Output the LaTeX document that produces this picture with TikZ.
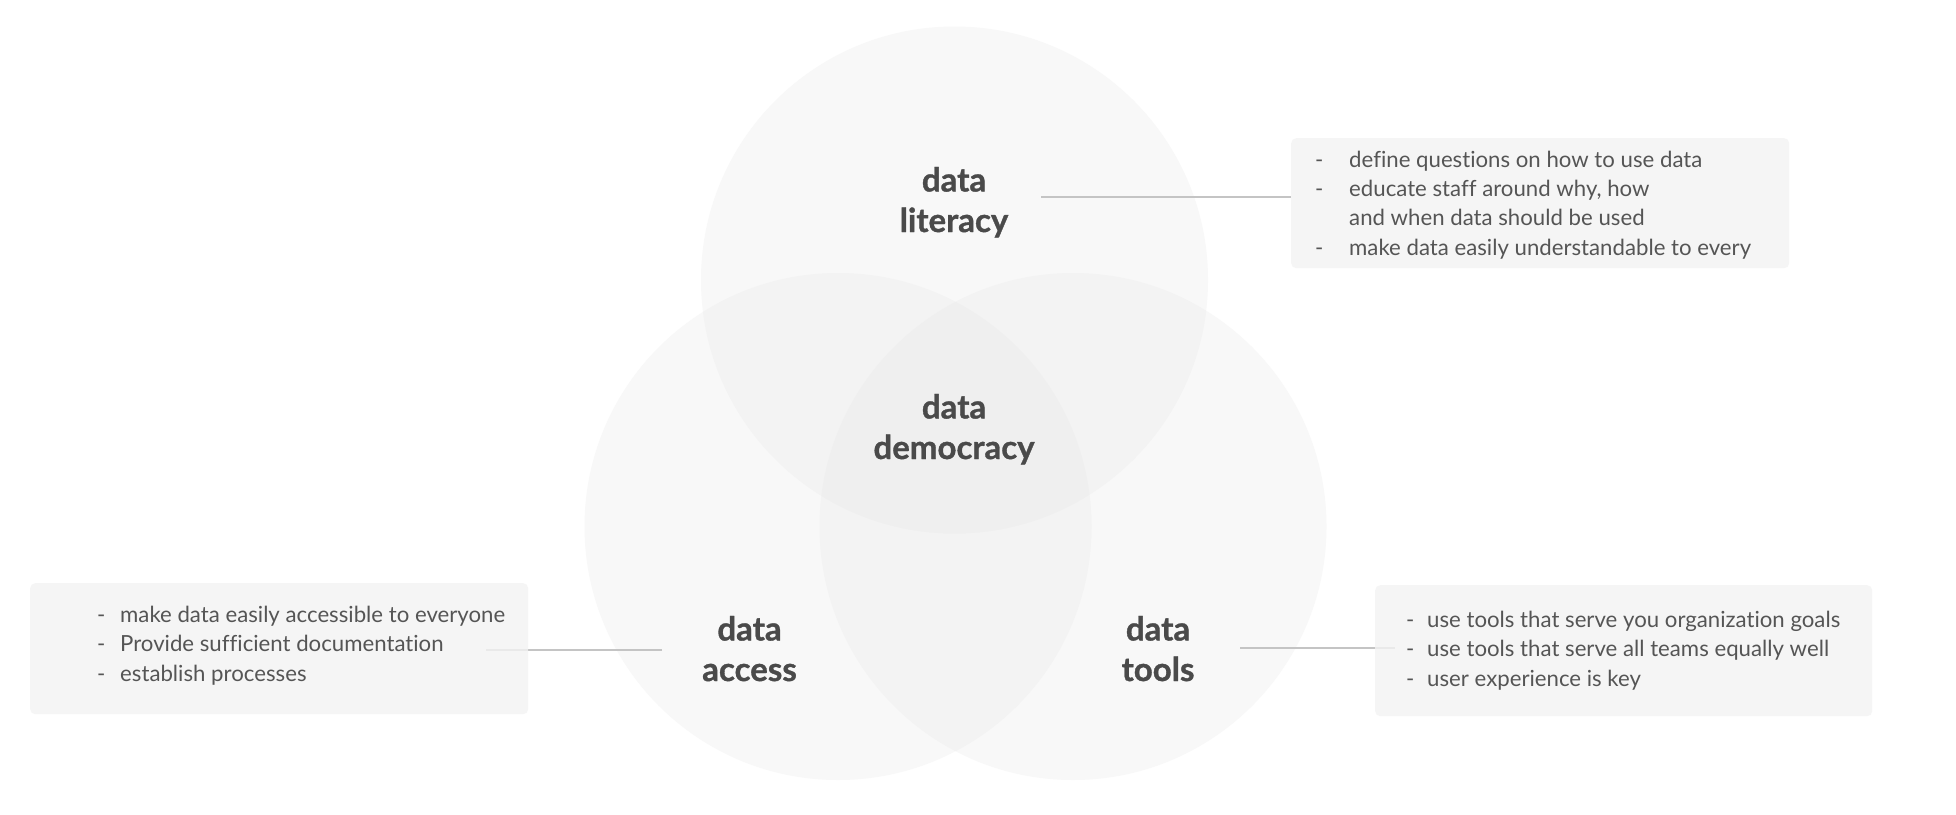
\documentclass[tikz,border=0pt]{standalone}
\usepackage{fontspec}
\setmainfont{Lato}[Ligatures=NoCommon]
\newfontfamily\lblfont{Lato}[BoldFeatures={FakeBold=1}]
\definecolor{circgray}{RGB}{231,231,231}
\definecolor{boxgray}{RGB}{243,243,243}
\definecolor{linegray}{RGB}{196,196,196}
\definecolor{labelgray}{RGB}{74,74,74}
\definecolor{listgray}{RGB}{85,85,85}
\newcommand{\dashitem}[1]{\makebox[#1][l]{-}}
\tikzset{
  vcircle/.style={circle, fill=circgray, fill opacity=0.29, draw=none, minimum size=507, inner sep=0},
  listbox/.style={rectangle, rounded corners=5pt, fill=boxgray, fill opacity=0.8, draw=none, inner sep=0, anchor=north west},
  conn/.style={draw=linegray, line width=1.5pt},
  lbl/.style={font=\lblfont\fontsize{33}{40.5}\selectfont\bfseries, text=labelgray, align=center, inner sep=0, anchor=base},
  lst/.style={font=\fontsize{22.2}{29.2}\selectfont, text=listgray, align=left, inner sep=0, anchor=base west}
}
\begin{document}
\begin{tikzpicture}[x=1pt, y=-1pt]
\useasboundingbox[fill=white] (0,0) rectangle (1956,814);
% Venn circles
\node[vcircle] (clit) at (954.5,280) {};
\node[vcircle] (cacc) at (838,526.5) {};
\node[vcircle] (ctool) at (1073,526.5) {};
% connector anchors
\coordinate (litstart) at (1041,197);
\coordinate (accstart) at (662,650);
\coordinate (accend) at (486,650);
\coordinate (toolstart) at (1240,648);
\coordinate (toolend) at (1395,648);
% boxes (positions)
\path (1291,138) coordinate (litboxnw);
\path (30,583) coordinate (accboxnw);
\path (1375,585) coordinate (toolboxnw);
% connectors drawn under boxes
\draw[conn] (litstart) -- (litstart -| litboxnw);
\draw[conn] (accstart) -- (accend);
\draw[conn] (toolstart) -- (toolend);
% boxes
\node[listbox, minimum width=498, minimum height=130] (litbox) at (litboxnw) {};
\node[listbox, minimum width=498, minimum height=131] (accbox) at (accboxnw) {};
\node[listbox, minimum width=497, minimum height=131] (toolbox) at (toolboxnw) {};
% labels (anchored at the baseline of the last line)
\node[lbl] (lit) at (954,232) {data\\literacy};
\node[lbl] (dem) at (954,459) {data\\democracy};
\node[lbl] (acc) at (749.5,681) {data\\access};
\node[lbl] (tool) at (1158,681) {data\\tools};
% lists (anchored at the baseline of the last line)
\node[lst] (litlist) at (1315,255) {\dashitem{34pt}define questions on how to use data\\
\dashitem{34pt}educate staff around why, how\\
\hspace*{34pt}and when data should be used\\
\dashitem{34pt}make data easily understandable to every};
\node[lst] (acclist) at (97,681) {\dashitem{23pt}make data easily accessible to everyone\\
\dashitem{23pt}Provide sufficient documentation\\
\dashitem{23pt}establish processes};
\node[lst] (toollist) at (1406,686) {\dashitem{21pt}use tools that serve you organization goals\\
\dashitem{21pt}use tools that serve all teams equally well\\
\dashitem{21pt}user experience is key};
\end{tikzpicture}
\end{document}
